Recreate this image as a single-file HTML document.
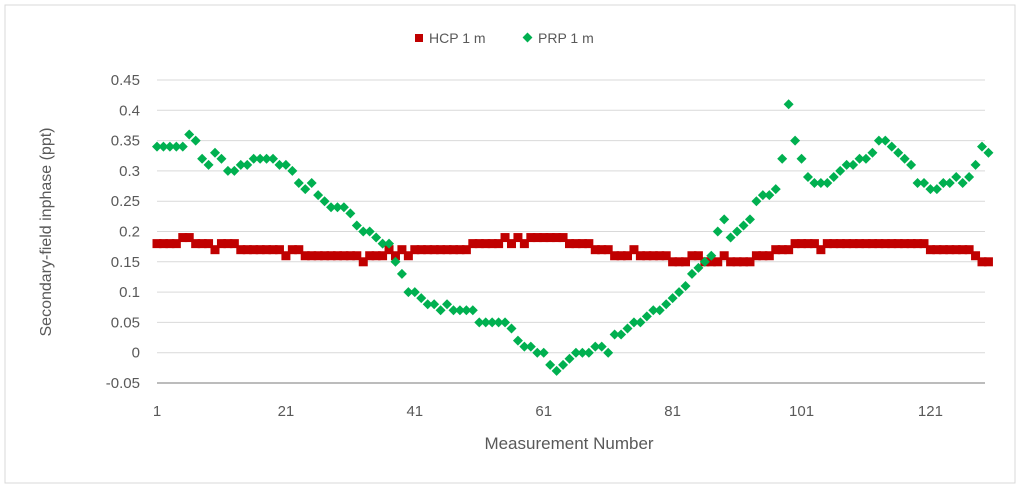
<!DOCTYPE html>
<html><head><meta charset="utf-8"><style>
body{margin:0;background:#fff;font-family:"Liberation Sans",sans-serif;}
svg text{font-family:"Liberation Sans",sans-serif;fill:#595959;}
</style></head><body>
<svg width="1024" height="488">
<rect x="5" y="5" width="1010" height="478" fill="#fff" stroke="#d9d9d9"/>
<g id="grid"></g><g id="ticks"></g><g id="marks"></g>
<g>
<rect x="415" y="34" width="8" height="8" fill="#c00000"/>
<text x="429" y="43" font-size="14">HCP 1 m</text>
<rect x="524" y="34" width="7" height="7" fill="#00b050" transform="rotate(45 527.5 37.5)"/>
<text x="538" y="43" font-size="14">PRP 1 m</text>
</g>
<text x="569" y="449" font-size="17" text-anchor="middle">Measurement Number</text>
<text transform="translate(51 232) rotate(-90)" font-size="16" text-anchor="middle">Secondary-field inphase (ppt)</text>
</svg>
<script>
const xTicks=[1,21,41,61,81,101,121];
const yTicks=[-0.05,0,0.05,0.1,0.15,0.2,0.25,0.3,0.35,0.4,0.45];
const yTickLabels=["-0.05","0","0.05","0.1","0.15","0.2","0.25","0.3","0.35","0.4","0.45"];
const hcp=[0.18,0.18,0.18,0.18,0.19,0.19,0.18,0.18,0.18,0.17,0.18,0.18,0.18,0.17,0.17,0.17,0.17,0.17,0.17,0.17,0.16,0.17,0.17,0.16,0.16,0.16,0.16,0.16,0.16,0.16,0.16,0.16,0.15,0.16,0.16,0.16,0.17,0.16,0.17,0.16,0.17,0.17,0.17,0.17,0.17,0.17,0.17,0.17,0.17,0.18,0.18,0.18,0.18,0.18,0.19,0.18,0.19,0.18,0.19,0.19,0.19,0.19,0.19,0.19,0.18,0.18,0.18,0.18,0.17,0.17,0.17,0.16,0.16,0.16,0.17,0.16,0.16,0.16,0.16,0.16,0.15,0.15,0.15,0.16,0.16,0.15,0.15,0.15,0.16,0.15,0.15,0.15,0.15,0.16,0.16,0.16,0.17,0.17,0.17,0.18,0.18,0.18,0.18,0.17,0.18,0.18,0.18,0.18,0.18,0.18,0.18,0.18,0.18,0.18,0.18,0.18,0.18,0.18,0.18,0.18,0.17,0.17,0.17,0.17,0.17,0.17,0.17,0.16,0.15,0.15];
const prp=[0.34,0.34,0.34,0.34,0.34,0.36,0.35,0.32,0.31,0.33,0.32,0.30,0.30,0.31,0.31,0.32,0.32,0.32,0.32,0.31,0.31,0.30,0.28,0.27,0.28,0.26,0.25,0.24,0.24,0.24,0.23,0.21,0.20,0.20,0.19,0.18,0.18,0.15,0.13,0.10,0.10,0.09,0.08,0.08,0.07,0.08,0.07,0.07,0.07,0.07,0.05,0.05,0.05,0.05,0.05,0.04,0.02,0.01,0.01,0.00,0.00,-0.02,-0.03,-0.02,-0.01,0.00,0.00,0.00,0.01,0.01,0.00,0.03,0.03,0.04,0.05,0.05,0.06,0.07,0.07,0.08,0.09,0.10,0.11,0.13,0.14,0.15,0.16,0.20,0.22,0.19,0.20,0.21,0.22,0.25,0.26,0.26,0.27,0.32,0.41,0.35,0.32,0.29,0.28,0.28,0.28,0.29,0.30,0.31,0.31,0.32,0.32,0.33,0.35,0.35,0.34,0.33,0.32,0.31,0.28,0.28,0.27,0.27,0.28,0.28,0.29,0.28,0.29,0.31,0.34,0.33];
const NS="http://www.w3.org/2000/svg";
const x0=157,x1=982,xmin=1,xmax=129,yTop=80,yBot=383,ymin=-0.05,ymax=0.45;
const X=v=>x0+(v-xmin)/(xmax-xmin)*(x1-x0);
const Y=v=>yBot-(v-ymin)/(ymax-ymin)*(yBot-yTop);
function mk(t,a,p){const e=document.createElementNS(NS,t);for(const k in a)e.setAttribute(k,a[k]);p.appendChild(e);return e;}
const grid=document.getElementById('grid'),ticks=document.getElementById('ticks'),marks=document.getElementById('marks');
yTicks.forEach((v,i)=>{
 const l=mk('line',{x1:x0,x2:x1+3,y1:Y(v),y2:Y(v),stroke:i==0?'#a6a6a6':'#d9d9d9','stroke-width':i==0?1.5:1},grid);
 
 
 const t=mk('text',{x:140,y:Y(v)+5,'font-size':15,'text-anchor':'end'},ticks);
 t.textContent=yTickLabels[i];
 
 
});
xTicks.forEach(v=>{
 const t=mk('text',{x:X(v),y:416,'font-size':15,'text-anchor':'middle'},ticks);
 t.textContent=String(v);
 
 
});
hcp.forEach((v,i)=>{
 const r=mk('rect',{x:X(i+1)-4.5,y:Y(v)-4.5,width:9,height:9,fill:'#c00000'},marks);
 
 
});
prp.forEach((v,i)=>{
 const cx=X(i+1),cy=Y(v);
 const p=mk('polygon',{points:`${cx},${cy-5} ${cx+5},${cy} ${cx},${cy+5} ${cx-5},${cy}`,fill:'#00b050'},marks);
 
 
});
</script>
</body></html>
